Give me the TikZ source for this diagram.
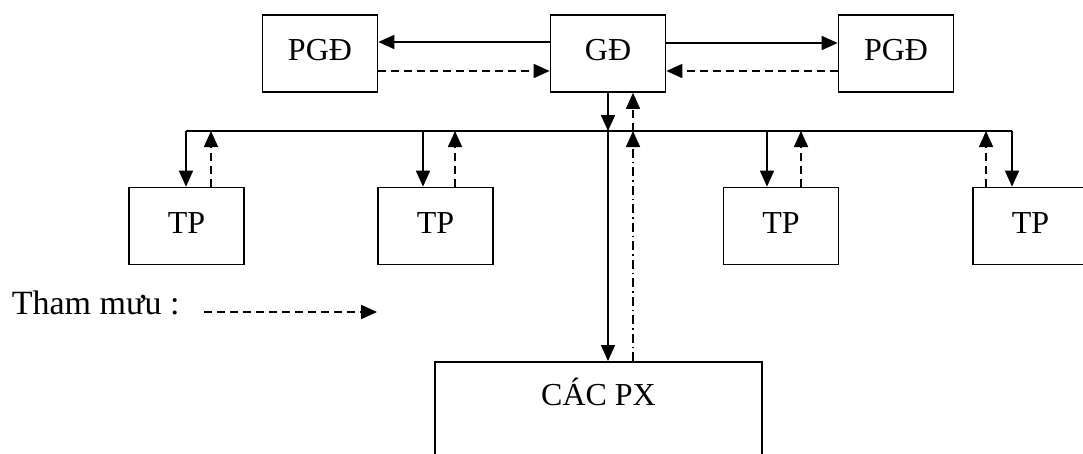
\documentclass[tikz,border=0pt]{standalone}
\usepackage{fontspec}
\setmainfont{Liberation Serif}
\usetikzlibrary{arrows.meta}
\begin{document}
\begin{tikzpicture}[x=1pt, y=-1pt, line width=1.7pt, font=\fontsize{32}{38}\selectfont,
    >={Triangle[length=16pt,width=14pt]},
    box/.style={draw, minimum width=115pt, minimum height=77pt, inner sep=0pt, text height=22pt, text depth=8pt},
    tm/.style={dash pattern=on 8pt off 5pt},
    dd/.style={dash pattern=on 9pt off 4pt on 1.5pt off 4pt}]
  \useasboundingbox (0,0) rectangle (1083,453);
  \clip (0,0) rectangle (1083,453);
  \def\yb{131}
  % boxes
  \node[box] (pgdL) at (320,53.5) {PGĐ};
  \node[box] (gd) at (608,53.5) {GĐ};
  \node[box] (pgdR) at (896,53.5) {PGĐ};
  \node[box] (tp1) at (186.5,226) {TP};
  \node[box] (tp2) at (435.5,226) {TP};
  \node[box] (tp3) at (781,226) {TP};
  \node[box] (tp4) at (1030.5,226) {TP};
  \node[draw, anchor=north, minimum width=327pt, inner xsep=0pt, inner ysep=20pt, text height=24pt, text depth=80pt] (px) at (598.5,361) {CÁC PX};
  \node[anchor=west, inner sep=0pt, font=\fontsize{34}{40}\selectfont] (leg) at (11,303) {Tham mưu :};
  % bus
  \coordinate (busL) at (186,\yb);
  \coordinate (busR) at (1012,\yb);
  \coordinate (busC) at (608,\yb);
  \coordinate (busD) at (633,\yb);
  \draw (busL) -- (busR);
  % top level
  \draw[->] ([yshift=11.5pt]gd.west) -- ([yshift=11.5pt]gd.west -| pgdL.east);
  \draw[tm,->] ([yshift=-17.5pt]pgdL.east) -- ([yshift=-17.5pt]pgdL.east -| gd.west);
  \draw[->] ([yshift=10.5pt]gd.east) -- ([yshift=10.5pt]gd.east -| pgdR.west);
  \draw[tm,->] ([yshift=-17.5pt]pgdR.west) -- ([yshift=-17.5pt]pgdR.west -| gd.east);
  \draw[->] (gd.south) -- (busC);
  \draw[tm,->] (busD) -- (busD |- gd.south);
  % TP
  \draw[->] (busL) -- (busL |- tp1.north);
  \draw[tm,->] ([xshift=24.5pt]tp1.north) -- ([xshift=24.5pt]tp1.north |- busL);
  \draw[->] ([xshift=-12.5pt]tp2.north |- busL) -- ([xshift=-12.5pt]tp2.north);
  \draw[tm,->] ([xshift=19.5pt]tp2.north) -- ([xshift=19.5pt]tp2.north |- busL);
  \draw[->] ([xshift=-14pt]tp3.north |- busL) -- ([xshift=-14pt]tp3.north);
  \draw[tm,->] ([xshift=20pt]tp3.north) -- ([xshift=20pt]tp3.north |- busL);
  \draw[tm,->] ([xshift=-44.5pt]tp4.north) -- ([xshift=-44.5pt]tp4.north |- busR);
  \draw[->] (busR) -- (busR |- tp4.north);
  % PX
  \draw[->] (busC) -- (busC |- px.north);
  \draw[dd,->] (busD |- px.north) -- (busD);
  % legend
  \coordinate (legA) at (204,312);
  \coordinate (legB) at (377,312);
  \draw[tm,->] (legA) -- (legB);
\end{tikzpicture}
\end{document}
